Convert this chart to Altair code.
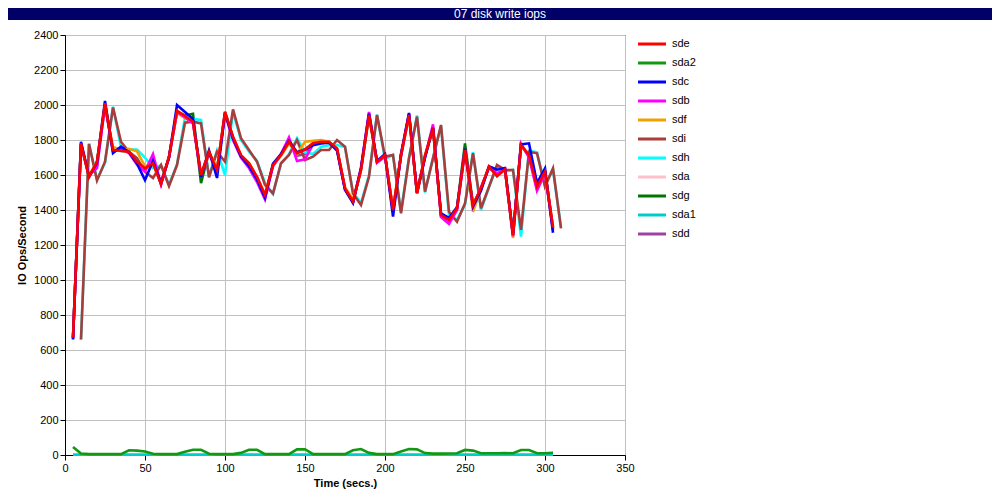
import altair as alt
import pandas as pd

TITLE = "07 disk write iops"

T_A = [5, 10, 15, 20, 25, 30, 35, 40, 45, 50, 55, 60, 65, 70, 75, 80, 85, 90, 95, 100,
       105, 110, 115, 120, 125, 130, 135, 140, 145, 150, 155, 160, 165, 170, 175, 180, 185, 190, 195, 200,
       205, 210, 215, 220, 225, 230, 235, 240, 245, 250, 255, 260, 265, 270, 275, 280, 285, 290, 295, 300, 305]
T_B = [10, 15, 20, 25, 30, 35, 40, 45, 50, 55, 60, 65, 70, 75, 80, 85, 90, 95, 100, 105,
       110, 115, 120, 125, 130, 135, 140, 145, 150, 155, 160, 165, 170, 175, 180, 185, 190, 195, 200, 205,
       210, 215, 220, 225, 230, 235, 240, 245, 250, 255, 260, 265, 270, 275, 280, 285, 290, 295, 300, 305, 310]

sde = [670, 1781, 1587, 1676, 2010, 1743, 1739, 1733, 1676, 1638, 1667, 1549, 1705, 1968, 1937, 1905, 1600, 1733, 1629, 1962,
       1819, 1714, 1667, 1590, 1486, 1657, 1714, 1790, 1724, 1747, 1781, 1790, 1790, 1752, 1524, 1448, 1629, 1943, 1676, 1714,
       1400, 1714, 1943, 1495, 1710, 1867, 1371, 1343, 1410, 1743, 1429, 1524, 1648, 1594, 1633, 1257, 1771, 1714, 1533, 1619, 1300]
sda2 = [46, 8, 5, 5, 5, 5, 5, 27, 25, 20, 7, 5, 5, 5, 18, 30, 30, 7, 5, 5,
        5, 12, 30, 30, 5, 5, 5, 5, 32, 33, 5, 5, 5, 5, 5, 27, 34, 12, 5, 5,
        5, 20, 34, 32, 11, 8, 8, 9, 10, 29, 25, 10, 10, 10, 11, 10, 29, 29, 10, 10, 13]
sdc = [660, 1790, 1590, 1670, 2023, 1725, 1762, 1730, 1665, 1571, 1680, 1555, 1700, 2000, 1960, 1920, 1590, 1740, 1583, 1955,
       1810, 1705, 1650, 1575, 1470, 1665, 1720, 1795, 1730, 1745, 1770, 1780, 1785, 1740, 1515, 1440, 1640, 1950, 1680, 1720,
       1362, 1720, 1955, 1500, 1700, 1870, 1380, 1355, 1415, 1750, 1420, 1510, 1650, 1630, 1640, 1260, 1775, 1781, 1554, 1638, 1270]
sdb = [665, 1770, 1600, 1640, 2000, 1735, 1750, 1725, 1660, 1620, 1720, 1545, 1700, 1960, 1930, 1895, 1595, 1725, 1620, 1950,
       1800, 1700, 1640, 1560, 1460, 1650, 1720, 1815, 1680, 1690, 1775, 1785, 1785, 1745, 1520, 1445, 1640, 1960, 1670, 1705,
       1390, 1710, 1950, 1500, 1700, 1890, 1360, 1320, 1400, 1740, 1420, 1530, 1640, 1610, 1630, 1250, 1780, 1700, 1510, 1610, 1290]
sdf = [670, 1775, 1595, 1680, 1990, 1760, 1745, 1750, 1735, 1650, 1660, 1560, 1700, 1955, 1925, 1900, 1605, 1735, 1635, 1950,
       1810, 1710, 1670, 1580, 1490, 1660, 1710, 1780, 1720, 1790, 1795, 1800, 1790, 1750, 1530, 1460, 1630, 1935, 1675, 1710,
       1400, 1710, 1935, 1500, 1715, 1860, 1380, 1350, 1410, 1735, 1390, 1520, 1645, 1600, 1630, 1240, 1765, 1710, 1540, 1620, 1300]
sdi = [660, 1777, 1568, 1676, 1986, 1790, 1733, 1697, 1619, 1583, 1657, 1537, 1657, 1899, 1905, 1895, 1587, 1733, 1676, 1975,
       1810, 1743, 1676, 1543, 1495, 1667, 1714, 1800, 1686, 1705, 1743, 1743, 1800, 1762, 1495, 1429, 1590, 1943, 1705, 1714,
       1381, 1695, 1933, 1505, 1695, 1886, 1390, 1333, 1438, 1724, 1410, 1533, 1657, 1629, 1629, 1286, 1733, 1724, 1533, 1638, 1295]
sdh = [660, 1780, 1575, 1670, 1990, 1760, 1745, 1745, 1700, 1640, 1655, 1545, 1660, 1930, 1920, 1915, 1590, 1740, 1600, 1960,
       1800, 1735, 1680, 1555, 1490, 1665, 1720, 1810, 1730, 1720, 1760, 1770, 1771, 1760, 1500, 1440, 1600, 1945, 1690, 1715,
       1390, 1700, 1940, 1500, 1700, 1880, 1371, 1345, 1430, 1730, 1400, 1530, 1650, 1620, 1630, 1248, 1740, 1730, 1540, 1630, 1300]
sda = [670, 1780, 1590, 1670, 2005, 1740, 1740, 1730, 1675, 1635, 1665, 1550, 1705, 1965, 1935, 1905, 1600, 1730, 1630, 1960,
       1815, 1712, 1665, 1588, 1485, 1655, 1712, 1790, 1722, 1745, 1780, 1788, 1788, 1750, 1522, 1448, 1630, 1940, 1676, 1712,
       1400, 1712, 1940, 1495, 1710, 1865, 1372, 1343, 1410, 1742, 1430, 1524, 1646, 1595, 1632, 1258, 1770, 1714, 1533, 1618, 1300]
sdg = [668, 1778, 1590, 1672, 2000, 1742, 1738, 1732, 1672, 1635, 1668, 1550, 1702, 1962, 1940, 1950, 1554, 1730, 1628, 1958,
       1815, 1710, 1665, 1588, 1488, 1655, 1712, 1788, 1722, 1745, 1780, 1788, 1788, 1750, 1522, 1448, 1628, 1940, 1675, 1712,
       1400, 1712, 1940, 1496, 1708, 1865, 1372, 1343, 1412, 1780, 1430, 1522, 1646, 1595, 1632, 1258, 1770, 1712, 1533, 1618, 1300]
sda1 = [2] * 61
sdd = [668, 1775, 1592, 1650, 2005, 1745, 1745, 1728, 1665, 1630, 1690, 1548, 1702, 1962, 1932, 1900, 1598, 1728, 1625, 1955,
       1812, 1705, 1660, 1578, 1478, 1655, 1716, 1800, 1710, 1720, 1778, 1786, 1786, 1748, 1520, 1446, 1634, 1950, 1672, 1708,
       1395, 1712, 1945, 1498, 1705, 1875, 1366, 1335, 1406, 1742, 1425, 1526, 1645, 1600, 1632, 1254, 1775, 1708, 1520, 1615, 1285]

NAMES = ["sde", "sda2", "sdc", "sdb", "sdf", "sdi", "sdh", "sda", "sdg", "sda1", "sdd"]
COLORS = ["#ff0000", "#119911", "#0000ff", "#ff00ff", "#f0a000", "#aa3c3c",
          "#00ffff", "#ffc0cb", "#007700", "#00cccc", "#a040a0"]
SERIES = {"sde": (T_A, sde), "sda2": (T_A, sda2), "sdc": (T_A, sdc), "sdb": (T_A, sdb),
          "sdf": (T_A, sdf), "sdi": (T_B, sdi), "sdh": (T_B, sdh), "sda": (T_A, sda),
          "sdg": (T_A, sdg), "sda1": (T_A, sda1), "sdd": (T_A, sdd)}

rows = []
for n in NAMES:
    ts, vs = SERIES[n]
    for t, v in zip(ts, vs):
        rows.append({"name": n, "t": t, "v": v})
df = pd.DataFrame(rows)

FONT = "Liberation Sans"
color_scale = alt.Scale(domain=NAMES, range=COLORS)

x_enc = alt.X("t:Q", scale=alt.Scale(domain=[0, 350], nice=False),
              axis=alt.Axis(values=[0, 50, 100, 150, 200, 250, 300, 350], title="Time (secs.)", format="d"))
y_enc = alt.Y("v:Q", scale=alt.Scale(domain=[0, 2400], nice=False),
              axis=alt.Axis(values=list(range(0, 2401, 200)), title="IO Ops/Second", format="d"))

line_layers = []
for n in reversed(NAMES):
    line_layers.append(
        alt.Chart(df).transform_filter(alt.datum.name == n)
        .mark_line(strokeWidth=2.6)
        .encode(x=x_enc, y=y_enc,
                color=alt.Color("name:N", scale=color_scale, legend=None))
    )
lines = alt.layer(*line_layers)

leg_df = pd.DataFrame({"name": NAMES})
leg_y = alt.Y("name:N", scale=alt.Scale(type="point", domain=NAMES, range=[9, 199], padding=0), axis=None)
leg_rules = alt.Chart(leg_df).mark_rule(strokeWidth=3).encode(
    x=alt.value(573), x2=alt.value(601), y=leg_y,
    color=alt.Color("name:N", scale=color_scale, legend=None))
leg_text = alt.Chart(leg_df).mark_text(align="left", baseline="middle", fontSize=11, font=FONT, color="black").encode(
    x=alt.value(607), y=leg_y, text="name:N")
legend = alt.layer(leg_rules, leg_text)

tdf = pd.DataFrame({"t": [TITLE]})
bar = alt.Chart(tdf).mark_rect(color="#000066").encode(
    x=alt.value(-57), x2=alt.value(927), y=alt.value(-27), y2=alt.value(-15))
bar_text = alt.Chart(tdf).mark_text(align="center", baseline="middle", fontSize=12, font=FONT, color="white").encode(
    x=alt.value(435), y=alt.value(-21), text="t:N")

chart = alt.layer(lines, legend, bar, bar_text).resolve_scale(y="independent").properties(
    width=560, height=420,
    autosize=alt.AutoSizeParams(type="none"),
    padding={"left": 57, "top": 27, "right": 367, "bottom": 36},
    background="white",
).configure_view(stroke="black", strokeWidth=1).configure_axis(
    grid=True, gridColor="#c0c0c0", gridWidth=1,
    domainColor="black", tickColor="black", tickSize=5, labelPadding=2,
    labelFlush=False, labelOverlap=False,
    labelColor="black", labelFont=FONT, labelFontSize=11,
    titleColor="black", titleFont=FONT, titleFontSize=11, titleFontWeight="bold",
).configure_axisX(titlePadding=4).configure_axisY(titlePadding=6)

chart.save("out.html", embed_options={"renderer": "svg", "actions": False})
